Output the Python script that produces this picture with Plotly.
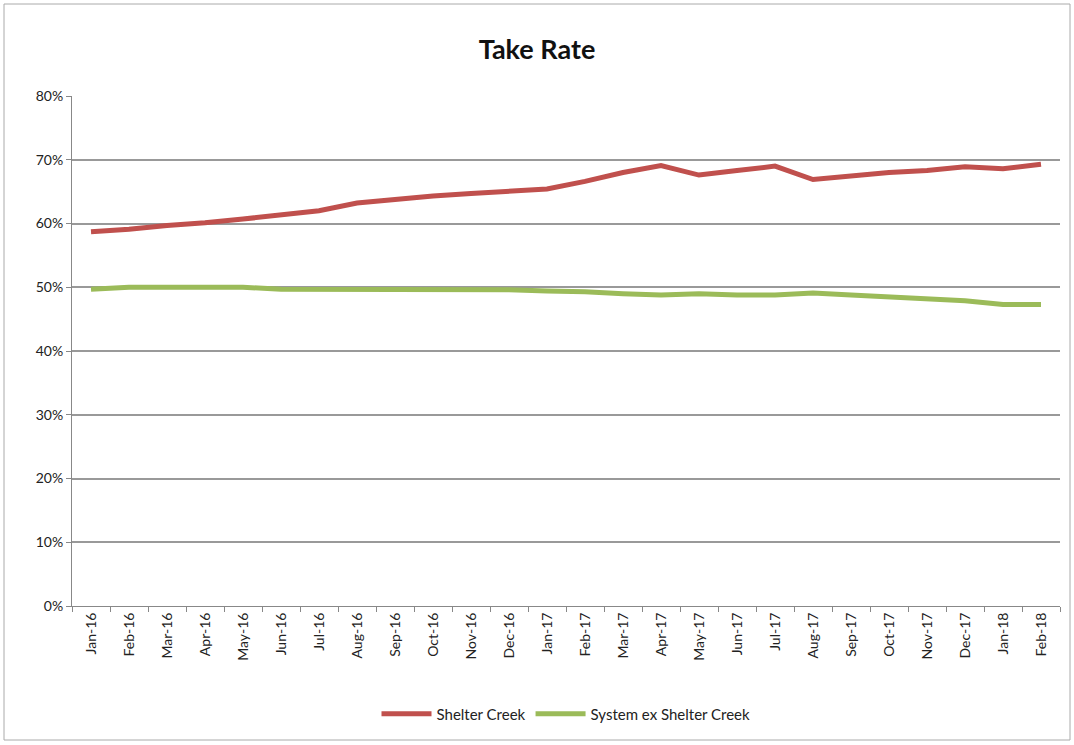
import plotly.graph_objects as go

months = ["Jan-16", "Feb-16", "Mar-16", "Apr-16", "May-16", "Jun-16", "Jul-16", "Aug-16",
          "Sep-16", "Oct-16", "Nov-16", "Dec-16", "Jan-17", "Feb-17", "Mar-17", "Apr-17",
          "May-17", "Jun-17", "Jul-17", "Aug-17", "Sep-17", "Oct-17", "Nov-17", "Dec-17",
          "Jan-18", "Feb-18"]

shelter_creek = [0.587, 0.591, 0.597, 0.601, 0.607, 0.614, 0.620, 0.632, 0.638, 0.643,
                 0.647, 0.650, 0.654, 0.666, 0.680, 0.691, 0.676, 0.683, 0.690, 0.669,
                 0.675, 0.680, 0.683, 0.689, 0.686, 0.693]

system_ex = [0.497, 0.500, 0.500, 0.500, 0.500, 0.497, 0.497, 0.497, 0.497, 0.497,
             0.497, 0.496, 0.494, 0.493, 0.490, 0.488, 0.490, 0.488, 0.488, 0.491,
             0.488, 0.485, 0.482, 0.479, 0.473, 0.473]

font_family = "Lato, 'Open Sans', sans-serif"

fig = go.Figure()
fig.add_trace(go.Scatter(x=months, y=shelter_creek, mode="lines", name="Shelter Creek",
                         line=dict(color="#c0504d", width=5)))
fig.add_trace(go.Scatter(x=months, y=system_ex, mode="lines", name="System ex Shelter Creek",
                         line=dict(color="#9bbb59", width=5)))

fig.update_layout(
    width=1074, height=745,
    margin=dict(l=72, r=14, t=96, b=139),
    paper_bgcolor="white", plot_bgcolor="white",
    font=dict(family=font_family, color="#222222", size=14),
    title=dict(text="<b>Take Rate</b>", x=0.5, xanchor="center", y=0.933, yanchor="middle",
               font=dict(size=27, color="#111111", family=font_family)),
    showlegend=True,
    legend=dict(orientation="h", x=0.5, xanchor="center", y=-0.212, yanchor="middle",
                font=dict(size=15, color="#222222"), itemwidth=50, traceorder="normal"),
    shapes=[dict(type="rect", xref="paper", yref="paper",
                 x0=-68/988, x1=1070/988 - 72/988,
                 y0=-134/510, y1=(606-4)/510,
                 line=dict(color="#aaaaaa", width=1), fillcolor="rgba(0,0,0,0)", layer="below")],
)

fig.update_xaxes(
    type="category", range=[-0.5, 25.5], tickangle=-90, tickson="boundaries",
    ticks="outside", ticklen=5, tickcolor="#888888",
    showline=True, linecolor="#888888", linewidth=1, showgrid=False,
    tickfont=dict(size=14, color="#222222"),
)
fig.update_yaxes(
    range=[0, 0.8], dtick=0.1, tickformat=".0%", ticks="outside", ticklen=5,
    tickcolor="#888888", showline=True, linecolor="#888888", linewidth=1,
    showgrid=True, gridcolor="#999999", gridwidth=1.5, zeroline=False,
    tickfont=dict(size=14, color="#222222"),
)

fig.write_html("out.html")
